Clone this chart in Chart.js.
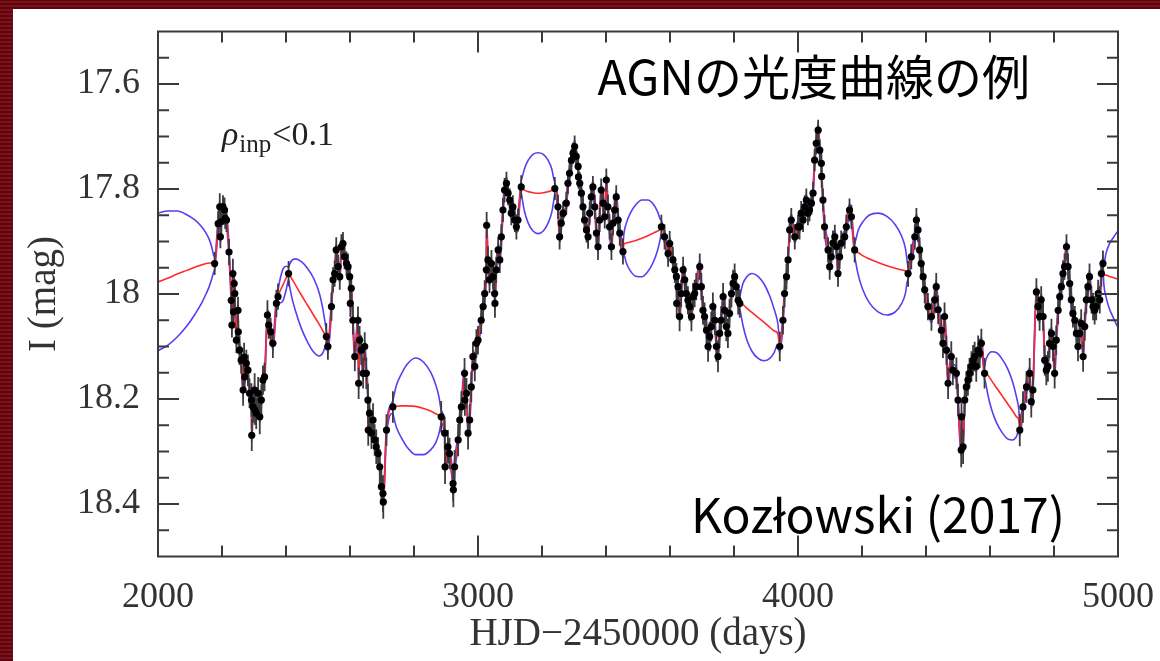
<!DOCTYPE html>
<html>
<head>
<meta charset="utf-8">
<title>AGN light curve</title>
<script src="https://cdn.jsdelivr.net/npm/chart.js@4.4.1/dist/chart.umd.min.js"></script>
<style>
  html, body { margin: 0; padding: 0; }
  body {
    width: 1160px; height: 661px; overflow: hidden; position: relative;
    background: repeating-linear-gradient(0deg, #5c0710 0px, #5c0710 2px, #7c1119 2px, #7c1119 4px);
  }
  #panel { position: absolute; left: 13px; top: 9px; width: 1147px; height: 652px; background: #fff; }
  #lc { filter: blur(0.45px); }
</style>
</head>
<body>
<div id="panel"><canvas id="lc" width="1147" height="652"></canvas></div>
<script>
// observing seasons: [HJD-2450000, I mag, error]
const season1 = [[2177,17.942,.022],[2188,17.866,.024],[2193,17.834,.026],[2195,17.891,.022],[2198,17.862,.025],[2203,17.834,.022],[2208,17.840,.024],[2210,17.856,.02],[2214,17.859,.023],[2222,17.920,.025],[2229,18.012,.026],[2231,18.059,.024],[2234,17.961,.028],[2236,18.034,.025],[2238,17.980,.024],[2240,17.999,.027],[2245,18.088,.025],[2250,18.031,.026],[2251,18.072,.024],[2255,18.107,.028],[2260,18.126,.026],[2266,18.183,.03],[2269,18.120,.027],[2271,18.158,.028],[2276,18.132,.026],[2281,18.145,.03],[2286,18.189,.028],[2292,18.202,.032],[2293,18.269,.03],[2297,18.215,.03],[2302,18.183,.032],[2303,18.221,.028],[2307,18.227,.03],[2313,18.189,.031],[2318,18.234,.033],[2323,18.202,.03],[2328,18.164,.028],[2333,18.158,.027],[2342,18.040,.028],[2346,18.059,.026],[2352,18.072,.027],[2359,18.094,.028],[2370,18.018,.026],[2375,18.005,.025],[2408,17.961,.024]];
const season2 = [[2526,18.081,.026],[2531,18.100,.025],[2542,18.024,.027],[2547,17.973,.024],[2552,17.961,.025],[2557,17.916,.024],[2563,17.948,.023],[2568,17.967,.025],[2573,17.910,.024],[2578,17.904,.022],[2583,17.929,.024],[2589,17.942,.023],[2594,17.948,.025],[2599,17.967,.024],[2601,18.018,.026],[2604,17.989,.025],[2609,18.050,.027],[2615,18.119,.028],[2625,18.050,.026],[2627,18.170,.03],[2630,18.088,.027],[2635,18.107,.028],[2641,18.151,.029],[2646,18.100,.027],[2651,18.151,.03],[2656,18.202,.031],[2657,18.259,.03],[2661,18.227,.031],[2667,18.265,.03],[2672,18.240,.032],[2677,18.278,.03],[2682,18.291,.033],[2688,18.304,.031],[2693,18.329,.034],[2698,18.367,.033],[2703,18.380,.035],[2704,18.396,.032],[2714,18.259,.03],[2734,18.215,.03]];
const season3 = [[2885,18.234,.03],[2896,18.265,.031],[2897,18.329,.033],[2906,18.291,.032],[2911,18.304,.03],[2922,18.361,.034],[2923,18.373,.033],[2927,18.329,.032],[2938,18.278,.031],[2943,18.240,.03],[2948,18.215,.03],[2958,18.151,.029],[2959,18.202,.03],[2964,18.189,.029],[2969,18.265,.031],[2974,18.240,.03],[2979,18.177,.029],[2984,18.119,.028],[2990,18.138,.028],[2995,18.094,.027],[3000,18.088,.027],[3010,18.050,.026],[3016,18.024,.027],[3021,17.999,.025],[3026,17.954,.026],[3027,17.869,.025],[3031,17.935,.026],[3036,17.973,.025],[3042,17.942,.026],[3047,17.967,.025],[3052,17.999,.026],[3053,18.018,.027],[3057,17.954,.025],[3063,17.916,.024],[3068,17.935,.025],[3073,17.891,.024],[3078,17.840,.023],[3083,17.802,.023],[3089,17.789,.022],[3094,17.808,.023],[3099,17.821,.022],[3104,17.846,.023],[3109,17.834,.022],[3115,17.859,.023],[3120,17.872,.024],[3125,17.859,.022],[3135,17.796,.022]];
const season4 = [[3240,17.799,.022],[3250,17.834,.023],[3255,17.891,.024],[3260,17.865,.023],[3266,17.846,.022],[3276,17.827,.022],[3281,17.789,.021],[3286,17.770,.022],[3292,17.745,.021],[3297,17.732,.02],[3302,17.719,.021],[3307,17.738,.02],[3313,17.757,.021],[3314,17.777,.022],[3318,17.789,.021],[3323,17.808,.022],[3328,17.834,.023],[3333,17.859,.022],[3339,17.878,.024],[3344,17.891,.023],[3349,17.846,.022],[3354,17.815,.022],[3359,17.796,.021],[3365,17.834,.023],[3370,17.884,.024],[3375,17.910,.025],[3380,17.859,.023],[3385,17.802,.022],[3391,17.827,.023],[3396,17.853,.022],[3401,17.783,.022],[3406,17.834,.023],[3411,17.872,.024],[3417,17.910,.025],[3422,17.865,.023],[3427,17.840,.022],[3432,17.815,.022],[3438,17.859,.023],[3443,17.884,.024],[3453,17.919,.025]];
const season5 = [[3573,17.872,.023],[3583,17.891,.024],[3594,17.923,.025],[3599,17.904,.024],[3609,17.935,.025],[3615,17.954,.025],[3620,17.967,.026],[3621,18.018,.027],[3625,17.986,.026],[3630,18.043,.028],[3635,17.999,.026],[3641,17.954,.025],[3646,17.973,.026],[3651,17.999,.026],[3656,18.012,.027],[3661,18.024,.027],[3667,18.043,.028],[3672,18.005,.026],[3677,17.999,.026],[3682,17.986,.026],[3693,17.948,.025],[3698,17.986,.026],[3703,18.031,.027],[3708,18.043,.027],[3714,18.069,.028],[3719,18.100,.029],[3724,18.081,.028],[3729,18.062,.028],[3734,18.024,.027],[3740,18.050,.028],[3745,18.100,.029],[3750,18.119,.03],[3755,18.075,.028],[3760,18.050,.027],[3766,18.005,.026],[3771,18.031,.027],[3776,18.062,.028],[3781,18.075,.028],[3786,18.037,.027],[3792,17.999,.026],[3797,17.980,.026],[3802,17.967,.025],[3807,17.986,.026],[3813,18.012,.027],[3818,18.018,.027]];
const season6 = [[3943,18.100,.028],[3953,18.050,.027],[3958,17.999,.026],[3964,17.967,.025],[3969,17.935,.025],[3974,17.878,.024],[3979,17.859,.023],[3990,17.891,.024],[4000,17.872,.023],[4005,17.872,.024],[4010,17.846,.023],[4016,17.859,.023],[4021,17.834,.022],[4026,17.821,.022],[4031,17.846,.023],[4036,17.840,.022],[4042,17.827,.022],[4047,17.808,.022],[4052,17.745,.021],[4057,17.713,.021],[4063,17.688,.02],[4068,17.726,.021],[4073,17.751,.021],[4074,17.776,.022],[4078,17.821,.022],[4083,17.872,.023],[4094,17.916,.024],[4099,17.948,.025],[4104,17.929,.024],[4109,17.903,.024],[4115,17.891,.023],[4120,17.910,.024],[4125,17.961,.025],[4130,17.929,.024],[4135,17.903,.024],[4146,17.891,.023],[4151,17.872,.023],[4161,17.840,.022],[4167,17.853,.023],[4177,17.916,.024]];
const season7 = [[4344,17.961,.025],[4354,17.929,.024],[4365,17.891,.024],[4370,17.859,.023],[4375,17.878,.023],[4380,17.916,.024],[4385,17.942,.025],[4391,17.967,.025],[4396,17.992,.026],[4406,18.024,.026],[4417,18.043,.027],[4427,18.011,.026],[4432,17.986,.026],[4438,18.030,.027],[4448,18.069,.028],[4453,18.094,.028],[4458,18.043,.027],[4464,18.107,.028],[4469,18.170,.03],[4479,18.119,.029],[4484,18.145,.029],[4495,18.151,.03],[4500,18.202,.031],[4510,18.297,.033],[4511,18.234,.031],[4516,18.291,.033],[4521,18.202,.031],[4526,18.177,.03],[4531,18.164,.03],[4536,18.151,.029],[4542,18.138,.029],[4547,18.126,.029],[4552,18.119,.028],[4557,18.138,.029],[4563,18.107,.028],[4568,18.113,.028],[4573,18.094,.028],[4583,18.151,.029]];
const season8 = [[4693,18.259,.031],[4703,18.215,.03],[4714,18.177,.03],[4724,18.151,.029],[4729,18.205,.03],[4734,18.183,.03],[4745,17.996,.026],[4750,18.024,.027],[4755,18.043,.027],[4760,18.011,.026],[4766,18.043,.027],[4771,18.126,.029],[4776,18.145,.029],[4781,18.138,.029],[4786,18.094,.028],[4792,18.075,.028],[4797,18.100,.028],[4802,18.151,.029],[4807,18.088,.028],[4813,18.031,.027],[4818,18.005,.026],[4823,17.986,.026],[4828,17.961,.025],[4833,17.948,.025],[4839,17.910,.024],[4844,17.948,.025],[4849,17.980,.026],[4854,18.011,.026],[4859,18.037,.027],[4865,18.050,.027],[4870,18.075,.028],[4875,18.100,.028],[4880,18.075,.028],[4885,18.056,.027],[4891,18.119,.029],[4896,18.062,.027],[4901,18.011,.026],[4906,17.986,.026],[4911,17.967,.025],[4917,18.011,.026],[4922,18.024,.026],[4927,18.031,.027],[4932,18.024,.026],[4938,17.999,.026],[4943,18.011,.026],[4948,17.961,.025],[4953,17.942,.025]];

// model between seasons: [HJD-2450000, mean mag, sigma]
const gapA = [[2000,17.977,.131],[2030,17.970,.128],[2060,17.962,.120],[2090,17.955,.106],[2115,17.949,.090],[2135,17.945,.074],[2150,17.942,.058],[2160,17.941,.045],[2168,17.941,.030],[2174,17.942,.016]];
const gapA2 = [[2381,17.995,.022],[2391,17.982,.030],[2401,17.969,.022]];
const gapB = [[2411,17.964,.02],[2418,17.971,.035],[2430,17.983,.05],[2447,18.001,.063],[2467,18.021,.07],[2487,18.041,.07],[2504,18.058,.06],[2516,18.071,.04],[2523,18.078,.02]];
const gapC = [[2737,18.215,.02],[2745,18.214,.04],[2760,18.213,.06],[2780,18.213,.08],[2805,18.214,.092],[2830,18.218,.088],[2852,18.223,.074],[2868,18.228,.055],[2878,18.231,.035],[2883,18.233,.018]];
const gapD = [[3138,17.798,.02],[3145,17.802,.04],[3157,17.805,.06],[3172,17.807,.073],[3188,17.808,.077],[3204,17.807,.073],[3219,17.805,.06],[3231,17.803,.04],[3237,17.801,.02]];
const gapE = [[3456,17.905,.02],[3463,17.903,.037],[3476,17.901,.055],[3493,17.898,.068],[3512,17.894,.073],[3531,17.889,.068],[3548,17.884,.055],[3561,17.880,.037],[3569,17.877,.02]];
const gapF = [[3821,18.017,.02],[3828,18.020,.04],[3840,18.027,.06],[3856,18.035,.074],[3874,18.044,.078],[3894,18.054,.073],[3911,18.063,.06],[3925,18.070,.042],[3937,18.076,.02]];
const gapG = [[4180,17.918,.02],[4188,17.921,.042],[4202,17.927,.064],[4222,17.933,.083],[4250,17.940,.094],[4278,17.946,.094],[4304,17.951,.083],[4324,17.954,.064],[4336,17.956,.042],[4341,17.957,.02]];
const gapH = [[4586,18.148,.02],[4593,18.154,.037],[4605,18.165,.055],[4621,18.179,.067],[4638,18.194,.07],[4655,18.209,.067],[4671,18.223,.055],[4683,18.234,.037],[4690,18.240,.02]];
const gapI = [[4956,17.963,.02],[4962,17.964,.04],[4972,17.966,.06],[4986,17.969,.077],[5000,17.972,.092],[5012,17.975,.1]];
const inSeasonSigma = 0.012;

// axes
const xTickValues = [2000, 3000, 4000, 5000];
const xMinorTicks = [2200, 2400, 2600, 2800, 3200, 3400, 3600, 3800, 4200, 4400, 4600, 4800];
const yTickValues = [17.6, 17.8, 18, 18.2, 18.4];
const yTickLabels = ['17.6', '17.8', '18', '18.2', '18.4'];
const yMinorTicks = [17.55, 17.65, 17.7, 17.75, 17.85, 17.9, 17.95, 18.05, 18.1, 18.15, 18.25, 18.3, 18.35, 18.45];

const seasons = [season1, season2, season3, season4, season5, season6, season7, season8];
const gaps = [gapA, gapA2, gapB, gapC, gapD, gapE, gapF, gapG, gapH, gapI];

const obs = [].concat(...seasons);
const model = obs.map(p => [p[0], p[1], inSeasonSigma]).concat(...gaps);
model.sort((a, b) => a[0] - b[0]);

const errBars = [];
obs.forEach(p => {
    errBars.push({x: p[0], y: p[1] - p[2]});
    errBars.push({x: p[0], y: p[1] + p[2]});
    errBars.push({x: p[0], y: null});
});

const SERIF = "'Liberation Serif', 'DejaVu Serif', serif";
const SANS = "'Noto Sans CJK JP', 'Noto Sans', sans-serif";
const BLUE = '#5a3df2';

// box with inward ticks on all four sides
const frameTicks = {
    id: 'frameTicks',
    afterDraw(chart) {
        const {ctx, chartArea: a, scales: {x, y}} = chart;
        ctx.save();
        ctx.strokeStyle = '#3a3a3a';
        ctx.lineWidth = 2;
        ctx.strokeRect(a.left, a.top, a.right - a.left, a.bottom - a.top);
        ctx.beginPath();
        const xt = (v, len) => {
            const px = x.getPixelForValue(v);
            ctx.moveTo(px, a.bottom); ctx.lineTo(px, a.bottom - len);
            ctx.moveTo(px, a.top); ctx.lineTo(px, a.top + len);
        };
        const yt = (v, len) => {
            const py = y.getPixelForValue(v);
            ctx.moveTo(a.left, py); ctx.lineTo(a.left + len, py);
            ctx.moveTo(a.right, py); ctx.lineTo(a.right - len, py);
        };
        xTickValues.forEach(v => xt(v, 21));
        xMinorTicks.forEach(v => xt(v, 11));
        yTickValues.forEach(v => yt(v, 21));
        yMinorTicks.forEach(v => yt(v, 11));
        ctx.stroke();
        ctx.restore();
    }
};

// labels inside the plot
const notes = {
    id: 'notes',
    afterDraw(chart) {
        const {ctx, scales: {x, y}} = chart;
        ctx.save();
        ctx.fillStyle = '#000';
        ctx.textBaseline = 'alphabetic';
        ctx.textAlign = 'right';
        ctx.font = '48px ' + SANS;
        ctx.fillText('AGNの光度曲線の例', x.getPixelForValue(4725), y.getPixelForValue(17.621));
        ctx.fillText('Kozłowski (2017)', x.getPixelForValue(4834), y.getPixelForValue(18.455));

        ctx.textAlign = 'left';
        ctx.fillStyle = '#222';
        let px = x.getPixelForValue(2200);
        const py = y.getPixelForValue(17.716);
        ctx.font = 'italic 34px ' + SERIF;
        ctx.fillText('ρ', px, py);
        px += ctx.measureText('ρ').width + 1;
        ctx.font = '25px ' + SERIF;
        ctx.fillText('inp', px, py + 7);
        px += ctx.measureText('inp').width + 1;
        ctx.font = '34px ' + SERIF;
        ctx.fillText('<0.1', px, py);
        ctx.restore();
    }
};

// keep the plot box where the layout padding puts it
const noPad = s => { s.paddingTop = 0; s.paddingBottom = 0; s.paddingLeft = 0; s.paddingRight = 0; };

const lineBase = {showLine: true, pointRadius: 0, borderWidth: 1.6, cubicInterpolationMode: 'monotone'};

new Chart(document.getElementById('lc'), {
    type: 'scatter',
    data: {
        datasets: [
            Object.assign({data: model.map(r => ({x: r[0], y: r[1] - r[2]})), borderColor: BLUE, order: 5}, lineBase),
            Object.assign({data: model.map(r => ({x: r[0], y: r[1] + r[2]})), borderColor: BLUE, order: 4}, lineBase),
            Object.assign({data: model.map(r => ({x: r[0], y: r[1]})), borderColor: '#ff2b2b', order: 3}, lineBase),
            {data: errBars, showLine: true, spanGaps: false, pointRadius: 0, borderWidth: 1.8, borderColor: '#3c3c3c', order: 2},
            {data: obs.map(p => ({x: p[0], y: p[1]})), pointRadius: 3.6, backgroundColor: '#000', borderWidth: 0, order: 1}
        ]
    },
    options: {
        responsive: false,
        animation: false,
        devicePixelRatio: 1,
        layout: {padding: {top: 22.5, right: 42, left: 0, bottom: 0}},
        plugins: {legend: {display: false}, tooltip: {enabled: false}},
        scales: {
            x: {
                type: 'linear', min: 2000, max: 5000,
                grid: {display: false, drawTicks: false},
                border: {display: false},
                afterBuildTicks: s => { s.ticks = xTickValues.map(v => ({value: v})); },
                afterFit: s => { s.height = 104.5; noPad(s); },
                ticks: {font: {family: SERIF, size: 36}, color: '#333', padding: 19, maxRotation: 0, autoSkip: false,
                        callback: v => String(v)},
                title: {display: true, text: 'HJD−2450000 (days)', color: '#333',
                        font: {family: SERIF, size: 39}, padding: {top: 0, bottom: 3}}
            },
            y: {
                type: 'linear', min: 17.5, max: 18.5, reverse: true,
                grid: {display: false, drawTicks: false},
                border: {display: false},
                afterBuildTicks: s => { s.ticks = yTickValues.map(v => ({value: v})); },
                afterFit: s => { s.width = 145; noPad(s); },
                ticks: {font: {family: SERIF, size: 36}, color: '#333', padding: 18, autoSkip: false,
                        callback: (v, i) => yTickLabels[i]},
                title: {display: true, text: 'I (mag)', color: '#333',
                        font: {family: SERIF, size: 39}, padding: {top: 8, bottom: 0}}
            }
        }
    },
    plugins: [frameTicks, notes]
});
</script>
</body>
</html>
